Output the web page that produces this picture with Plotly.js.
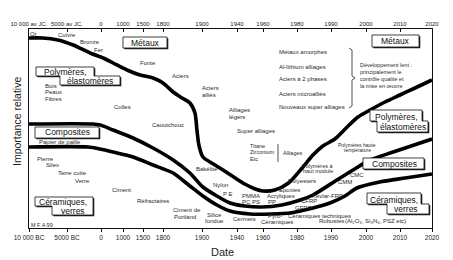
<!DOCTYPE html>
<html>
<head>
<meta charset="utf-8">
<script src="https://cdn.plot.ly/plotly-3.0.1.min.js"></script>
<style>html,body{margin:0;padding:0;background:#fff;}#chart{width:453px;height:260px;}</style>
</head>
<body>
<div id="chart"></div>
<script>
// ---- data ----
const TICK_YEARS = [-10000, -5000, 0, 1000, 1500, 1800, 1900, 1940, 1960, 1980, 1990, 2000, 2010, 2020];
const TICK_TOP = ['10 000 av JC.', '5000 av JC.', '0', '1000', '1500', '1800', '1900', '1940', '1960', '1980', '1990', '2000', '2010', '2020'];
const TICK_BOTTOM = ['10 000 BC', '5000 BC', '0', '1000', '1500', '1800', '1900', '1940', '1960', '1980', '1990', '2000', '2010', '2020'];

// boundary Métaux / Polymères
const metalsYears = [-10000, -8200, -6200, -4100, -1600, 100, 550, 1100, 1425, 1650, 1800, 1826, 1849, 1869, 1882, 1887, 1892, 1901, 1913, 1924, 1938, 1946, 1954, 1960, 1967, 1975, 1981.5, 1984.7, 1987.6, 1991.1, 1994.6, 1997.7, 2001.2, 2005.6, 2010, 2014.7, 2020];
const metalsImp = [190, 190, 188, 183, 175, 170, 165, 158, 153, 150, 145, 136, 130, 125, 115, 98, 83, 71, 64, 58, 50, 44, 39, 37, 38, 45, 60, 73, 82, 89, 101, 111, 118, 126, 133, 140, 148];
// boundary Polymères / Composites
const polymersYears = [-10000, -1200, -100, 550, 1250, 1650, 1826, 1869, 1901, 1917, 1932, 1946, 1959, 1971, 1981, 1984.7, 1991.7, 1996.3, 2001.2, 2008, 2020];
const polymersImp = [104, 104, 103, 98, 90, 80, 68, 55, 41, 32, 25, 22, 21, 23, 28, 33, 48, 58, 68, 76, 89];
// boundary Composites / Céramiques
const compositesYears = [-10000, -1900, -150, 550, 1250, 1650, 1826, 1869, 1901, 1917, 1932, 1950, 1965, 1976, 1984.7, 1989.7, 1994, 1997.4, 2004, 2011.6, 2020];
const compositesImp = [81, 81, 79, 76, 71, 63, 55, 42, 32, 23, 17, 14, 14, 15, 20, 25, 32, 40, 46, 50, 54];

// ---- layout configuration (non-linear date axis) ----
const AXIS_POS = [29, 67, 101, 123, 143, 163, 202, 237, 263, 297, 331, 366, 400, 432];
const X0 = 29, X1 = 432, YT = 29, YB = 228;

function yearToPos(yr) {
  for (let i = 0; i < TICK_YEARS.length - 1; i++) {
    if (yr <= TICK_YEARS[i + 1]) {
      const f = (yr - TICK_YEARS[i]) / (TICK_YEARS[i + 1] - TICK_YEARS[i]);
      return AXIS_POS[i] + f * (AXIS_POS[i + 1] - AXIS_POS[i]);
    }
  }
  return AXIS_POS[AXIS_POS.length - 1];
}
const px2x = p => (p - X0) / (X1 - X0);
const py2y = p => (YB - p) / (YB - YT);

function curve(years, imp) {
  return {
    x: years.map(yearToPos), y: imp, type: 'scatter', mode: 'lines',
    line: {color: '#000', width: 3.6, shape: 'spline', smoothing: 0.7},
    hoverinfo: 'skip', cliponaxis: false
  };
}

const traces = [
  curve(metalsYears, metalsImp),
  curve(polymersYears, polymersImp),
  curve(compositesYears, compositesImp),
  {x: [X0, X1], y: [0, 0], xaxis: 'x2', type: 'scatter', mode: 'markers', marker: {opacity: 0}, hoverinfo: 'skip'}
];

const FONT = 'Liberation Sans, Arial, sans-serif';
const labels = [
  ['Or', 33, 34, 6, 'center'], ['Cuivre', 67, 35, 6, 'center'], ['Bronze', 90, 42, 6, 'center'],
  ['Fer', 98, 50, 6, 'center'], ['Fonte', 148, 63, 6, 'center'], ['Aciers', 180, 76, 6, 'center'],
  ['Aciers', 200, 88, 6, 'left'], ['alliés', 200, 95, 6, 'left'],
  ['Bois', 43, 86, 6, 'left'], ['Peaux', 43, 92, 6, 'left'], ['Fibres', 43, 99, 6, 'left'],
  ['Colles', 122, 107, 6, 'center'], ['Caoutchouc', 168, 125, 6, 'center'],
  ['Alliages', 227, 110, 6, 'left'], ['légers', 227, 117, 6, 'left'],
  ['Super alliages', 256, 131, 6, 'center'],
  ['Titane', 248, 146, 5.5, 'left'], ['Zirconium', 248, 152, 5.5, 'left'], ['Etc', 248, 159, 5.5, 'left'],
  ['Alliages', 281, 153, 5.5, 'left'],
  ['Métaux amorphes', 277, 52, 6, 'left'], ['Al-lithium alliages', 277, 67, 6, 'left'],
  ['Aciers à 2 phases', 277, 79, 6, 'left'], ['Aciers microalliés', 277, 94, 6, 'left'],
  ['Nouveaux super alliages', 277, 107, 6, 'left'],
  ['Développement lent :', 358, 65, 5.5, 'left'], ['principalement le', 358, 72, 5.5, 'left'],
  ['contrôle qualité et', 358, 79, 5.5, 'left'], ['la mise en œuvre', 358, 86, 5.5, 'left'],
  ['Polymères haute', 357, 145, 5, 'center'], ['température', 357, 150, 5, 'center'],
  ['Polymères à', 318, 166, 5.5, 'center'], ['haut module', 318, 171, 5.5, 'center'],
  ['Polyesters', 302, 181, 6, 'center'], ['CMC', 357, 175, 6, 'center'], ['CMM', 345, 182, 6, 'center'],
  ['Epoxies', 289, 190, 6, 'center'], ['Acryliques', 281, 196, 6, 'center'], ['PP', 272, 202, 6, 'center'],
  ['PMMA', 251, 196, 6, 'center'], ['PC', 246, 202, 6, 'center'], ['PS', 256, 202, 6, 'center'],
  ['P E', 228, 194, 6, 'center'], ['Nylon', 220, 185, 6, 'center'], ['Bakélite', 207, 169, 6, 'center'],
  ['Kevlar-FRP', 327, 196, 6, 'center'], ['CFRP', 309, 201, 6, 'center'], ['GFRP', 303, 208, 6, 'center'],
  ['Céramiques techniques', 319, 216, 6, 'center'], ['Robustes', 331, 221, 6, 'center'],
  ['(Al₂O₃, Si₃N₄, PSZ etc)', 375, 221, 6, 'center'],
  ['Pyro-', 275, 216, 6, 'center'], ['Céramiques', 277, 222, 6, 'center'], ['Cermets', 244, 219, 6, 'center'],
  ['Silice', 214, 215, 6, 'center'], ['fondue', 214, 221, 6, 'center'],
  ['Ciment de', 187, 210, 6, 'center'], ['Portland', 185, 217, 6, 'center'],
  ['Réfractaires', 153, 201, 6, 'center'], ['Ciment', 121, 190, 6, 'center'], ['Verre', 82, 181, 6, 'center'],
  ['Terre cuite', 72, 173, 6, 'center'], ['Silex', 52, 165, 6, 'center'], ['Pierre', 45, 159, 6, 'center'],
  ['Papier de paille', 60, 142, 6, 'center'], ['M F A 99', 42, 225, 5.5, 'center']
];
const boxLabels = [
  ['Métaux', 145, 43], ['Polymères,', 65, 72], ['élastomères', 90, 81], ['Composites', 67, 132],
  ['Céramiques,', 63, 202], ['verres', 73, 211], ['Métaux', 395, 41], ['Polymères,', 396, 117],
  ['élastomères', 403, 127], ['Composites', 394, 164], ['Céramiques,', 394, 200], ['verres', 406, 209]
];

const annotations = [];
labels.forEach(([t, px, py, s, a]) => annotations.push({
  text: t, x: px2x(px), y: py2y(py), xref: 'paper', yref: 'paper', showarrow: false,
  xanchor: a, yanchor: 'middle', font: {family: FONT, size: s, color: '#2a2a2a'}
}));
boxLabels.forEach(([t, px, py]) => annotations.push({
  text: t, x: px2x(px), y: py2y(py), xref: 'paper', yref: 'paper', showarrow: false,
  xanchor: 'center', yanchor: 'middle', font: {family: FONT, size: 8.5, color: '#111'}
}));
annotations.push({text: 'Date', x: px2x(222), y: py2y(252), xref: 'paper', yref: 'paper', showarrow: false,
  xanchor: 'center', yanchor: 'middle', font: {family: FONT, size: 11, color: '#222'}});
annotations.push({text: 'Importance relative', x: px2x(17), y: py2y(122), xref: 'paper', yref: 'paper', showarrow: false,
  textangle: -90, xanchor: 'center', yanchor: 'middle', font: {family: FONT, size: 10.5, color: '#222'}});

// box outlines (pixel polygons -> paper)
const boxes = [
  [[123, 37], [167, 37], [167, 48], [123, 48]],
  [[36, 67], [94, 67], [94, 76], [120, 76], [120, 85], [60, 85], [60, 76], [36, 76]],
  [[35, 127], [99, 127], [99, 138], [35, 138]],
  [[35, 197], [93, 197], [93, 215], [52, 215], [52, 206], [35, 206]],
  [[372, 35], [419, 35], [419, 47], [372, 47]],
  [[370, 110], [422, 110], [422, 121], [428, 121], [428, 132], [377, 132], [377, 121], [370, 121]],
  [[363, 158], [424, 158], [424, 169], [363, 169]],
  [[367, 193], [421, 193], [421, 204], [429, 204], [429, 214], [387, 214], [387, 204], [367, 204]]
];
function pathOf(pts, dx, dy) {
  return pts.map((p, i) => (i ? 'L' : 'M') + px2x(p[0] + dx).toFixed(5) + ',' + py2y(p[1] + dy).toFixed(5)).join(' ') + ' Z';
}
const shapes = [];
boxes.forEach(b => {
  shapes.push({type: 'path', xref: 'paper', yref: 'paper', path: pathOf(b, 1.3, 1.3), fillcolor: '#222', line: {width: 0}, layer: 'above'});
  shapes.push({type: 'path', xref: 'paper', yref: 'paper', path: pathOf(b, 0, 0), fillcolor: '#fff', line: {color: '#111', width: 0.8}, layer: 'above'});
});
function lineShape(pts, w) {
  const d = pts.map((p, i) => (i ? 'L' : 'M') + px2x(p[0]).toFixed(5) + ',' + py2y(p[1]).toFixed(5)).join(' ');
  shapes.push({type: 'path', xref: 'paper', yref: 'paper', path: d, line: {color: '#222', width: w}, layer: 'above'});
}
lineShape([[349, 48], [352, 50], [352, 76], [355, 78], [352, 80], [352, 106], [349, 108]], 0.8);
lineShape([[278, 144], [278, 162]], 0.8);

const tickFont = {family: FONT, size: 6.5, color: '#222'};
const layout = {
  width: 453, height: 260,
  margin: {l: 29, r: 21, t: 29, b: 32, pad: 0},
  paper_bgcolor: '#fff', plot_bgcolor: '#fff', showlegend: false,
  xaxis: {range: [X0, X1], tickmode: 'array', tickvals: AXIS_POS, ticktext: TICK_BOTTOM, ticks: 'outside',
    ticklen: 3, tickcolor: '#111', showline: true, linecolor: '#111', linewidth: 1, showgrid: false,
    zeroline: false, tickfont: tickFont, fixedrange: true},
  xaxis2: {overlaying: 'x', side: 'top', range: [X0, X1], tickmode: 'array', tickvals: AXIS_POS, ticktext: TICK_TOP,
    ticks: 'inside', ticklen: 3, tickcolor: '#111', showline: true, linecolor: '#111', linewidth: 1,
    showgrid: false, zeroline: false, tickfont: {family: FONT, size: 6, color: '#222'}, fixedrange: true},
  yaxis: {range: [0, YB - YT], showline: true, mirror: true, linecolor: '#111', linewidth: 1, showticklabels: false,
    ticks: '', showgrid: false, zeroline: false, fixedrange: true},
  annotations: annotations, shapes: shapes
};
Plotly.newPlot('chart', traces, layout, {staticPlot: true, displayModeBar: false});
</script>
</body>
</html>
